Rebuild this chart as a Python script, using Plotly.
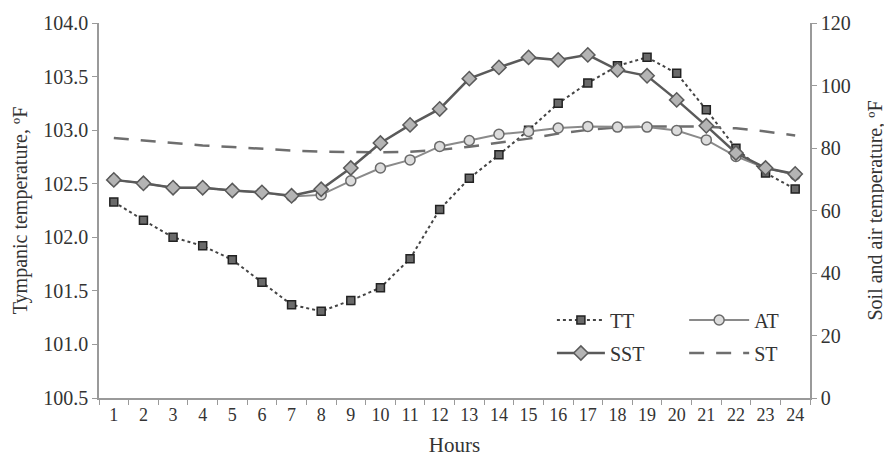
import plotly.graph_objects as go

hours = list(range(1, 25))
hour_labels = [str(h) for h in hours]

tt = [102.33, 102.16, 102.00, 101.92, 101.79, 101.58, 101.37, 101.31, 101.41, 101.53,
      101.80, 102.26, 102.55, 102.77, 103.00, 103.25, 103.44, 103.60, 103.68, 103.53,
      103.19, 102.83, 102.60, 102.45]
sst = [69.8, 68.7, 67.3, 67.3, 66.4, 65.8, 64.7, 66.8, 73.6, 81.6,
       87.4, 92.5, 102.2, 105.8, 109.0, 108.2, 109.8, 105.0, 103.1, 95.4,
       87.1, 78.4, 73.6, 71.7]
at = [69.8, 68.7, 67.3, 67.3, 66.4, 65.8, 64.5, 65.0, 69.5, 73.6,
      76.2, 80.5, 82.4, 84.4, 85.3, 86.4, 86.9, 86.7, 86.7, 85.6,
      82.6, 77.3, 73.6, 71.4]
st = [83.2, 82.4, 81.6, 80.8, 80.3, 79.7, 79.2, 78.8, 78.6, 78.6,
      78.8, 79.4, 80.4, 81.6, 83.0, 84.6, 85.8, 86.6, 86.9, 86.9,
      86.8, 86.3, 85.3, 84.0]

left_ticks = [100.5, 101.0, 101.5, 102.0, 102.5, 103.0, 103.5, 104.0]
right_ticks = [0, 20, 40, 60, 80, 100, 120]

FONT = "Liberation Serif"
TXT = "#333333"
AXC = "#9a9a9a"
fig = go.Figure()

fig.add_trace(go.Scatter(
    x=hours, y=st, name="ST", yaxis="y2", mode="lines",
    line=dict(color="#6e6e6e", width=2.5, dash="15px,12px"),
    legend="legend4"))
fig.add_trace(go.Scatter(
    x=hours, y=at, name="AT", yaxis="y2", mode="lines+markers",
    line=dict(color="#8a8a8a", width=2),
    marker=dict(symbol="circle", size=10, color="#dcdcdc", line=dict(color="#6a6a6a", width=1.5)),
    legend="legend2"))
fig.add_trace(go.Scatter(
    x=hours, y=sst, name="SST", yaxis="y2", mode="lines+markers",
    line=dict(color="#5a5a5a", width=2.5),
    marker=dict(symbol="diamond", size=11, color="#b4b4b4", line=dict(color="#5a5a5a", width=1.5)),
    legend="legend3"))
fig.add_trace(go.Scatter(
    x=hours, y=tt, name="TT", yaxis="y", mode="lines+markers",
    line=dict(color="#444444", width=2, dash="dot"),
    marker=dict(symbol="square", size=8, color="#6a6a6a", line=dict(color="#222222", width=1.5)),
    legend="legend"))

axis_common = dict(showline=True, linecolor=AXC, linewidth=1.5, showgrid=False,
                   zeroline=False, ticks="outside", ticklen=5, tickcolor=AXC, automargin=False,
                   tickfont=dict(family=FONT, size=20, color=TXT))

def leg(x, y, iw):
    return dict(orientation="h", x=x, y=y, xanchor="left", yanchor="middle",
                bgcolor="rgba(0,0,0,0)", font=dict(family=FONT, size=20, color=TXT),
                itemwidth=iw)

# page body has an 8px default margin, so the figure is 8px smaller and margins compensate
fig.update_layout(
    width=884, height=449,
    margin=dict(l=91, r=82, t=15, b=59),
    paper_bgcolor="white", plot_bgcolor="white",
    font=dict(family=FONT, size=20, color=TXT),
    showlegend=True,
    xaxis=dict(showline=True, linecolor=AXC, linewidth=1.5, showgrid=False, zeroline=False,
               automargin=False,
               range=[0.5, 24.5], tickmode="array", tickvals=hours, ticktext=hour_labels,
               ticks="", tickfont=dict(family=FONT, size=18, color=TXT),
               minor=dict(ticks="outside", tick0=0.5, dtick=1, ticklen=5, tickcolor=AXC),
               title=dict(text="Hours", font=dict(family=FONT, size=21, color=TXT), standoff=30)),
    yaxis=dict(range=[100.5, 104.0], tickmode="array", tickvals=left_ticks,
               ticktext=[f"{v:.1f}" for v in left_ticks],
               title=dict(text="Tympanic temperature, ºF", font=dict(family=FONT, size=20, color=TXT), standoff=10),
               **axis_common),
    yaxis2=dict(range=[0, 120], tickmode="array", tickvals=right_ticks, overlaying="y", side="right",
                title=dict(text="Soil and air temperature, ºF", font=dict(family=FONT, size=20, color=TXT), standoff=18),
                **axis_common),
    legend=leg(0.637, 0.208, 48),
    legend2=leg(0.823, 0.208, 60),
    legend3=leg(0.637, 0.12, 48),
    legend4=leg(0.823, 0.12, 60),
)

fig.write_html("out.html")
